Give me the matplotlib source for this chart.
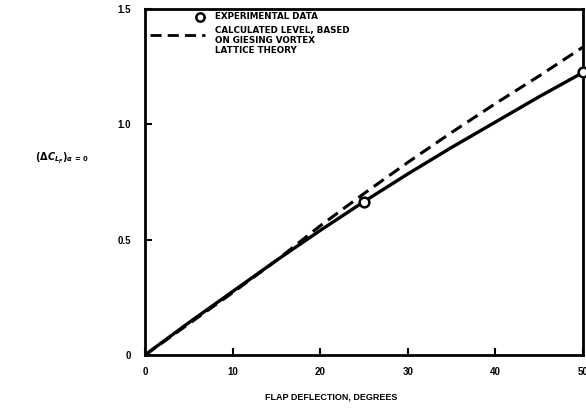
import matplotlib
matplotlib.use("Agg")
import matplotlib.pyplot as plt

# flap-lift increment vs flap deflection
deflection_exp = [0, 25, 50]
dcl_exp = [0.0, 0.665, 1.225]

deflection_fit = [0, 5, 10, 15, 20, 25, 30, 35, 40, 45, 50]
dcl_fit = [0.0, 0.14, 0.275, 0.41, 0.54, 0.665, 0.785, 0.90, 1.01, 1.12, 1.225]

deflection_calc = [0, 5, 10, 15, 20, 25, 30, 35, 40, 45, 50]
dcl_calc = [0.0, 0.135, 0.27, 0.41, 0.56, 0.70, 0.835, 0.965, 1.09, 1.21, 1.335]

x_ticks = [0, 10, 20, 30, 40, 50]
x_ticklabels = ["0", "10", "20", "30", "40", "50"]
y_ticks = [0, 0.5, 1.0, 1.5]
y_ticklabels = ["0", "0.5", "1.0", "1.5"]

plt.rcParams["font.family"] = ["Liberation Sans", "DejaVu Sans"]
plt.rcParams["font.weight"] = "bold"

fig = plt.figure(figsize=(5.86, 4.11), dpi=100)
ax = fig.add_axes([0.2474, 0.1363, 0.7475, 0.8417])

ax.plot(deflection_fit, dcl_fit, color="black", lw=2.4, solid_capstyle="butt")
ax.plot(deflection_calc, dcl_calc, color="black", lw=2.2, ls=(0, (4, 2.2)))
ax.plot(deflection_exp[1:], dcl_exp[1:], "o", ms=7, mfc="white", mec="black",
        mew=1.8, clip_on=False, zorder=5)

ax.set_xlim(0, 50)
ax.set_ylim(0, 1.5)
ax.set_xticks(x_ticks)
ax.set_xticklabels(x_ticklabels)
ax.set_yticks(y_ticks)
ax.set_yticklabels(y_ticklabels)
ax.tick_params(direction="in", length=5, width=1.5, labelsize=7)
ax.tick_params(axis="x", pad=9)
ax.tick_params(axis="y", pad=10)
for lbl in ax.get_xticklabels() + ax.get_yticklabels():
    lbl.set_fontweight("bold")
for s in ax.spines.values():
    s.set_linewidth(2)

ax.set_xlabel("FLAP DEFLECTION, DEGREES", fontsize=6.5, fontweight="bold",
              labelpad=11, x=0.425)
fig.text(0.105, 0.615, r"$(\Delta C_{L_F})_{\alpha\,=\,0}$", fontsize=7,
         ha="center", va="center")

# key
key_font = dict(family="DejaVu Sans", fontsize=6.3, fontweight="bold")
ax.plot([0.125], [0.977], "o", ms=6, mfc="white", mec="black", mew=1.8,
        transform=ax.transAxes, clip_on=False)
ax.text(0.16, 0.977, "EXPERIMENTAL DATA", transform=ax.transAxes,
        va="center", **key_font)
ax.plot([0.012, 0.137], [0.925, 0.925], color="black", lw=2, ls=(0, (4, 2.2)),
        transform=ax.transAxes)
ax.text(0.16, 0.95, "CALCULATED LEVEL, BASED\nON GIESING VORTEX\nLATTICE THEORY",
        transform=ax.transAxes, va="top", linespacing=1.1, **key_font)

fig.savefig("out.png", dpi=100)
